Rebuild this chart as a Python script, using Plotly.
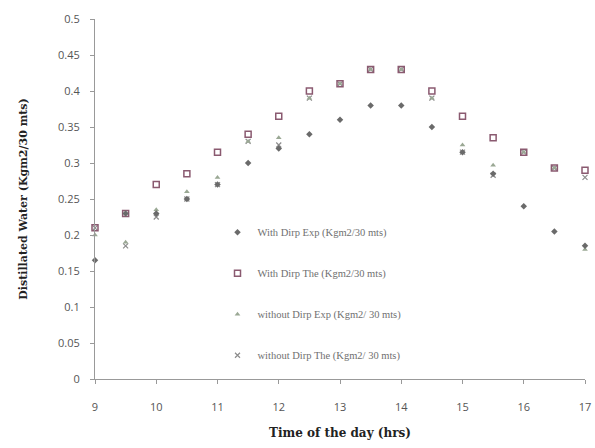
import plotly.graph_objects as go

hours = [9, 9.5, 10, 10.5, 11, 11.5, 12, 12.5, 13, 13.5, 14, 14.5, 15, 15.5, 16, 16.5, 17]
with_exp = [0.165, 0.23, 0.23, 0.25, 0.27, 0.30, 0.32, 0.34, 0.36, 0.38, 0.38, 0.35, 0.315, 0.285, 0.24, 0.205, 0.185]
with_the = [0.21, 0.23, 0.27, 0.285, 0.315, 0.34, 0.365, 0.40, 0.41, 0.43, 0.43, 0.40, 0.365, 0.335, 0.315, 0.293, 0.29]
without_exp = [0.20, 0.19, 0.235, 0.26, 0.28, 0.33, 0.335, 0.39, 0.41, 0.43, 0.43, 0.39, 0.325, 0.297, 0.315, 0.293, 0.18]
without_the = [0.21, 0.185, 0.225, 0.25, 0.27, 0.33, 0.325, 0.39, 0.41, 0.43, 0.43, 0.39, 0.315, 0.283, 0.315, 0.293, 0.28]

names = ["With Dirp Exp (Kgm2/30 mts)", "With Dirp The (Kgm2/30 mts)",
         "without Dirp Exp (Kgm2/ 30 mts)", "without Dirp The (Kgm2/ 30 mts)"]

fig = go.Figure()
fig.add_trace(go.Scatter(x=hours, y=without_the, mode="markers", name=names[3], legendgroup="d", legendrank=4,
                         cliponaxis=False,
                         marker=dict(symbol="x-thin-open", size=5, line=dict(color="#8c8c8c", width=1.2), color="#8c8c8c")))
fig.add_trace(go.Scatter(x=hours, y=without_exp, mode="markers", name=names[2], legendgroup="c", legendrank=3,
                         cliponaxis=False,
                         marker=dict(symbol="triangle-up", size=5, color="#9aa894")))
fig.add_trace(go.Scatter(x=hours, y=with_the, mode="markers", name=names[1], legendgroup="b", legendrank=2,
                         cliponaxis=False,
                         marker=dict(symbol="square-open", size=6, color="#8a5a70", line=dict(width=1.5))))
fig.add_trace(go.Scatter(x=hours, y=with_exp, mode="markers", name=names[0], legendgroup="a", legendrank=1,
                         cliponaxis=False,
                         marker=dict(symbol="diamond", size=5, color="#6a6a6a")))

fig.update_layout(
    width=595, height=448,
    margin=dict(l=95, r=10, t=19, b=69, autoexpand=False),
    paper_bgcolor="white", plot_bgcolor="white",
    showlegend=True,
    legend=dict(x=0.25, y=0.448, xanchor="left", yanchor="top", bgcolor="rgba(0,0,0,0)",
                font=dict(family="Liberation Serif", size=10.5, color="#707070"),
                tracegroupgap=22, itemwidth=30),
    xaxis=dict(range=[9, 17], tickvals=list(range(9, 18)), showgrid=False, zeroline=False, automargin=False,
               showline=True, linecolor="#999999", linewidth=1, ticks="outside", ticklen=4, tickcolor="#999999",
               ticklabelstandoff=14,
               tickfont=dict(family="Open Sans", size=11, color="#555555"),
               title=dict(text="<b>Time of the day (hrs)</b>", font=dict(family="DejaVu Serif", size=12, color="#222222"), standoff=15)),
    yaxis=dict(range=[0, 0.5], tickvals=[0, 0.05, 0.1, 0.15, 0.2, 0.25, 0.3, 0.35, 0.4, 0.45, 0.5],
               ticktext=["0", "0.05", "0.1", "0.15", "0.2", "0.25", "0.3", "0.35", "0.4", "0.45", "0.5"],
               showgrid=False, zeroline=False, automargin=False,
               showline=True, linecolor="#999999", linewidth=1, ticks="outside", ticklen=4, tickcolor="#999999",
               ticklabelstandoff=8,
               tickfont=dict(family="Open Sans", size=11, color="#555555"),
               title=dict(text="<b>Distillated Water (Kgm2/30 mts)</b>", font=dict(family="DejaVu Serif", size=11, color="#222222"), standoff=28)),
)

fig.write_html("out.html", config={"displayModeBar": False},
               post_script="document.body.style.margin='0';document.body.style.overflow='hidden';")
